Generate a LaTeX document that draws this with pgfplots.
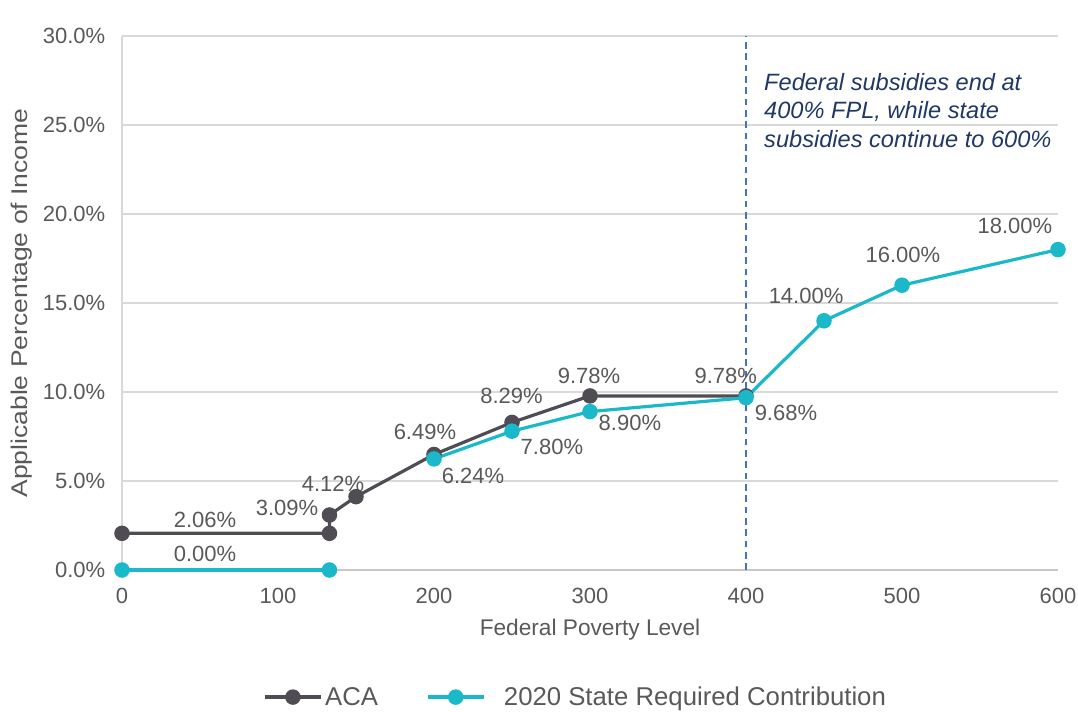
\documentclass[border=0pt]{standalone}
\usepackage{pgfplots}
\pgfplotsset{compat=1.18}
\usepackage{fontspec}
\setmainfont{Liberation Sans}
\definecolor{acagray}{RGB}{80,76,84}
\definecolor{statecyan}{RGB}{26,184,200}
\definecolor{txtgray}{RGB}{89,89,89}
\definecolor{gridgray}{RGB}{217,217,217}
\definecolor{axgray}{RGB}{200,200,200}
\definecolor{annblue}{RGB}{31,56,100}
\definecolor{dashblue}{RGB}{68,114,196}
\begin{document}
\begin{tikzpicture}
\useasboundingbox (-91.5pt,-105.75pt) rectangle (717pt,427.5pt);
\begin{axis}[
  at={(0,0)}, anchor=south west,
  scale only axis, width=702pt, height=400.5pt,
  xmin=0, xmax=600, ymin=0, ymax=30,
  axis x line=bottom, axis y line=left,
  axis line style={-},
  y axis line style={draw=gridgray, line width=0.8pt},
  x axis line style={draw=axgray, line width=1pt},
  xtick={0,100,...,600}, ytick={0,5,...,30},
  major tick length=0,
  ymajorgrids, grid style={draw=gridgray, line width=0.8pt},
  /pgf/number format/assume math mode=true,
  yticklabel={\pgfmathprintnumber[fixed,fixed zerofill,precision=1]{\tick}\%},
  xticklabel={\pgfmathprintnumber{\tick}},
  tick label style={font=\fontsize{16.5}{19}\selectfont, text=txtgray},
  xticklabel style={yshift=-10pt},
  yticklabel style={xshift=-9pt},
  xlabel={Federal Poverty Level},
  ylabel={\scalebox{1.17}[1]{Applicable Percentage of Income}},
  label style={font=\fontsize{17}{20}\selectfont, text=txtgray},
  xlabel style={at={(axis description cs:0.5,0)}, anchor=center, yshift=-45pt},
  ylabel style={at={(axis description cs:-0.1068,0.5)}, anchor=center},
  legend style={at={(0.485,-0.238)}, anchor=center, draw=none, fill=none,
    legend columns=2, font=\fontsize{19.3}{22}\selectfont, text=txtgray,
    /tikz/every even column/.append style={column sep=34pt},
    legend cell align=left},
  legend image code/.code={\draw[mark repeat=2,mark phase=2] plot coordinates {(0pt,0pt) (21pt,0pt) (42pt,0pt)};},
  clip=false,
]
\draw[dashblue, line width=1.2pt, dash pattern=on 5pt off 3.5pt] (axis cs:400,0) -- (axis cs:400,30);
\addplot[acagray, line width=2.4pt, mark=*, mark size=4.6pt, mark options={solid, fill=acagray}]
  coordinates {(0,2.06) (133,2.06) (133,3.09) (150,4.12) (200,6.49) (250,8.29) (300,9.78) (400,9.78)};
\addlegendentry{ACA}
\addplot[statecyan, line width=2.4pt, mark=*, mark size=4.6pt, mark options={solid, fill=statecyan}, forget plot]
  coordinates {(0,0) (133,0)};
\addplot[statecyan, line width=2.4pt, mark=*, mark size=4.6pt, mark options={solid, fill=statecyan}]
  coordinates {(200,6.24) (250,7.80) (300,8.90) (400,9.68) (450,14.00) (500,16.00) (600,18.00)};
\addlegendentry{\hspace{12pt}2020 State Required Contribution}
\begin{scope}[every node/.style={font=\fontsize{16.5}{19}\selectfont, text=txtgray, inner sep=0pt, anchor=center}]
\node at (axis cs:53.2,2.81) {2.06\%};
\node at (axis cs:53.2,0.93) {0.00\%};
\node at (axis cs:105.8,3.48) {3.09\%};
\node at (axis cs:135.3,4.83) {4.12\%};
\node at (axis cs:194.2,7.75) {6.49\%};
\node at (axis cs:225,5.28) {6.24\%};
\node at (axis cs:249.7,9.8) {8.29\%};
\node at (axis cs:275.6,6.91) {7.80\%};
\node at (axis cs:299.4,10.90) {9.78\%};
\node at (axis cs:325.6,8.25) {8.90\%};
\node at (axis cs:387,10.90) {9.78\%};
\node at (axis cs:425.6,8.82) {9.68\%};
\node at (axis cs:438.5,15.39) {14.00\%};
\node at (axis cs:500.6,17.70) {16.00\%};
\node at (axis cs:572.4,19.33) {18.00\%};
\end{scope}
\node[anchor=north west, inner sep=0pt, align=left, text=annblue,
  font=\fontsize{17.7}{21.4}\selectfont\itshape] at (axis cs:411.5,27.92)
  {Federal subsidies end at\\400\% FPL, while state\\subsidies continue to 600\%};
\end{axis}
\end{tikzpicture}
\end{document}
